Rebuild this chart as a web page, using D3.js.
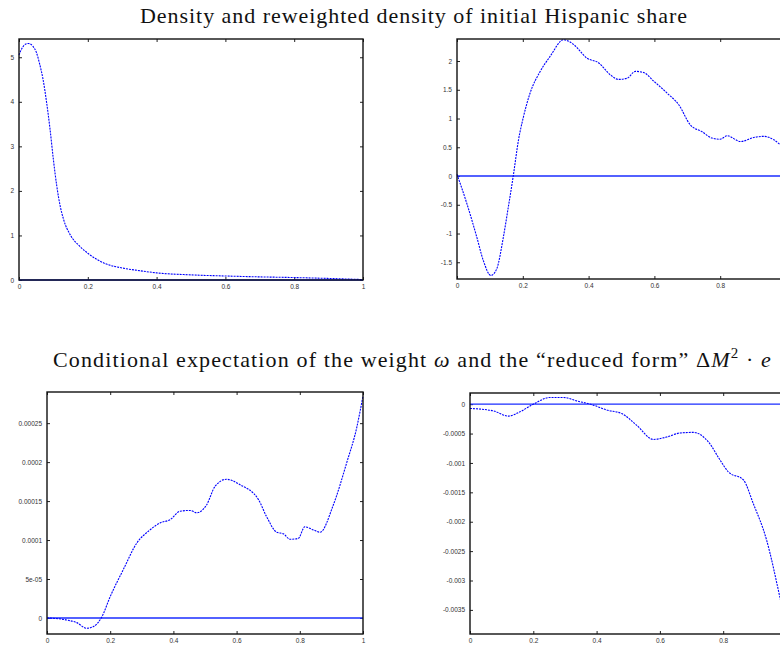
<!DOCTYPE html>
<html>
<head>
<meta charset="utf-8">
<script src="https://cdnjs.cloudflare.com/ajax/libs/d3/7.8.5/d3.min.js"></script>
<style>
body { margin: 0; background: #fff; }
.title { font-family: "Liberation Serif", "Times New Roman", serif; font-size: 22px; fill: #111; }
</style>
</head>
<body>
<svg id="chart" width="780" height="646"></svg>
<script>
// shared x ticks
var xTicks = [0, 0.2, 0.4, 0.6, 0.8, 1];
var xLabels = ["0", "0.2", "0.4", "0.6", "0.8", "1"];

// top left: density of initial hispanic share
var densX = [0, 0.01, 0.02, 0.027, 0.04, 0.05, 0.06, 0.07, 0.08, 0.09, 0.1, 0.11, 0.12, 0.13, 0.15, 0.175, 0.2, 0.25, 0.3, 0.35, 0.4, 0.5, 0.6, 0.7, 0.8, 0.9, 1.0];
var densY = [5.05, 5.22, 5.30, 5.31, 5.25, 5.12, 4.85, 4.5, 4.0, 3.4, 2.7, 2.1, 1.65, 1.35, 1.0, 0.77, 0.6, 0.37, 0.27, 0.21, 0.16, 0.115, 0.09, 0.07, 0.055, 0.035, 0.01];
var densTicks = [0, 1, 2, 3, 4, 5];
var densLabels = ["0", "1", "2", "3", "4", "5"];

// top right: reweighted density
var rewX = [0, 0.03, 0.06, 0.08, 0.103, 0.121, 0.141, 0.156, 0.171, 0.187, 0.202, 0.222, 0.253, 0.283, 0.324, 0.354, 0.395, 0.43, 0.466, 0.491, 0.517, 0.542, 0.567, 0.598, 0.639, 0.674, 0.709, 0.745, 0.775, 0.8, 0.821, 0.862, 0.902, 0.933, 0.963, 0.983, 1.0];
var rewY = [0.03, -0.48, -1.06, -1.47, -1.73, -1.61, -1.06, -0.54, 0, 0.63, 1.03, 1.44, 1.82, 2.08, 2.37, 2.29, 2.05, 1.97, 1.76, 1.68, 1.70, 1.82, 1.80, 1.65, 1.44, 1.24, 0.89, 0.77, 0.66, 0.64, 0.70, 0.60, 0.67, 0.69, 0.63, 0.54, 0.45];
var rewTicks = [-1.5, -1, -0.5, 0, 0.5, 1, 1.5, 2];
var rewLabels = ["-1.5", "-1", "-0.5", "0", "0.5", "1", "1.5", "2"];

// bottom left: conditional expectation of the weight
var wX = [0, 0.062, 0.094, 0.126, 0.147, 0.173, 0.2, 0.241, 0.284, 0.326, 0.358, 0.389, 0.421, 0.453, 0.474, 0.505, 0.532, 0.568, 0.611, 0.669, 0.695, 0.727, 0.748, 0.769, 0.795, 0.816, 0.843, 0.864, 0.906, 0.949, 0.98, 1.0];
var wY = [0, -2.6e-6, -6e-6, -1.33e-5, -1.11e-5, 1e-6, 2.74e-5, 6.17e-5, 9.6e-5, 1.13e-4, 1.22e-4, 1.26e-4, 1.37e-4, 1.38e-4, 1.35e-4, 1.45e-4, 1.69e-4, 1.78e-4, 1.71e-4, 1.52e-4, 1.30e-4, 1.10e-4, 1.08e-4, 1.01e-4, 1.02e-4, 1.17e-4, 1.13e-4, 1.10e-4, 1.45e-4, 2.00e-4, 2.44e-4, 2.85e-4];
var wTicks = [0, 0.00005, 0.0001, 0.00015, 0.0002, 0.00025];
var wLabels = ["0", "5e-05", "0.0001", "0.00015", "0.0002", "0.00025"];

// bottom right: reduced form
var rfX = [0, 0.074, 0.121, 0.158, 0.2, 0.253, 0.295, 0.337, 0.39, 0.432, 0.479, 0.527, 0.579, 0.621, 0.664, 0.706, 0.753, 0.79, 0.816, 0.864, 0.895, 0.937, 0.979, 1.0];
var rfY = [-7.3e-5, -1.14e-4, -2.04e-4, -1.3e-4, 0, 1.14e-4, 1.14e-4, 5.6e-5, -1.7e-5, -1.0e-4, -1.6e-4, -3.6e-4, -6.0e-4, -5.6e-4, -4.9e-4, -4.8e-4, -6.4e-4, -9.5e-4, -1.15e-3, -1.29e-3, -1.69e-3, -2.31e-3, -3.28e-3, -3.8e-3];
var rfTicks = [-0.0035, -0.003, -0.0025, -0.002, -0.0015, -0.001, -0.0005, 0];
var rfLabels = ["-0.0035", "-0.003", "-0.0025", "-0.002", "-0.0015", "-0.001", "-0.0005", "0"];

var W = 780;
var svg = d3.select("#chart");

function panel(box, xs, ys, yDomain, yTicks, yLabels) {
  var x = d3.scaleLinear().domain([0, 1]).range([box.left, box.right]),
  y = d3.scaleLinear().domain(yDomain).range([box.bottom, box.top]);

  var g = svg.append("g");

  // the right half of the page is cropped, so labels past the edge are not drawn
  var shown = xTicks.filter(function(d) { return x(d) < W - 4; });

  var xAxis = d3.axisBottom(x)
    .tickValues(shown)
    .tickFormat(function(d) { return xLabels[xTicks.indexOf(d)]; })
    .tickSize(-3)
    .tickSizeOuter(0)
    .tickPadding(4);
  var yAxis = d3.axisLeft(y)
    .tickValues(yTicks)
    .tickFormat(function(d, i) { return yLabels[i]; })
    .tickSize(-3)
    .tickSizeOuter(0)
    .tickPadding(5);

  g.append("g")
    .attr("transform", "translate(0," + box.bottom + ")")
    .call(xAxis);
  g.append("g")
    .attr("transform", "translate(" + box.left + ",0)")
    .call(yAxis);
  // mirrored ticks, no labels
  g.append("g")
    .attr("transform", "translate(0," + box.top + ")")
    .call(d3.axisTop(x).tickValues(xTicks).tickFormat("").tickSize(-3).tickSizeOuter(0));
  g.append("g")
    .attr("transform", "translate(" + box.right + ",0)")
    .call(d3.axisRight(y).tickValues(yTicks).tickFormat("").tickSize(-3).tickSizeOuter(0));

  g.selectAll(".domain").remove();
  g.selectAll(".tick line").attr("stroke", "#222").attr("stroke-width", 1);
  g.selectAll(".tick text")
    .attr("font-family", "'Liberation Sans', Arial, sans-serif")
    .attr("font-size", "6.5px")
    .attr("fill", "#333");

  // zero line
  g.append("line")
    .attr("x1", x(0)).attr("x2", x(1))
    .attr("y1", y(0)).attr("y2", y(0))
    .attr("stroke", "#1a2cff")
    .attr("stroke-width", 1.4);

  var line = d3.line()
    .x(function(d) { return x(d[0]); })
    .y(function(d) { return y(d[1]); })
    .curve(d3.curveMonotoneX);

  g.append("path")
    .datum(d3.zip(xs, ys))
    .attr("fill", "none")
    .attr("stroke", "#0000ff")
    .attr("stroke-width", 1.1)
    .attr("stroke-dasharray", "2,1")
    .attr("d", line);

  g.append("rect")
    .attr("x", box.left).attr("y", box.top)
    .attr("width", box.right - box.left)
    .attr("height", box.bottom - box.top)
    .attr("fill", "none")
    .attr("stroke", "#111")
    .attr("stroke-width", 1.4);
}

panel({left: 19, right: 363, top: 39, bottom: 280}, densX, densY, [0, 5.41], densTicks, densLabels);
panel({left: 457, right: 786, top: 39, bottom: 279}, rewX, rewY, [-1.791, 2.383], rewTicks, rewLabels);
panel({left: 47, right: 363, top: 392, bottom: 634}, wX, wY, [-0.0000206, 0.00029], wTicks, wLabels);
panel({left: 470, right: 786.5, top: 393, bottom: 634}, rfX, rfY, [-0.00391, 0.00019], rfTicks, rfLabels);

// titles, spread to the width they take in the reference
function fit(t, target) {
  var w = t.node().getComputedTextLength();
  var n = t.text().length;
  t.attr("letter-spacing", ((target - w) / n) + "px");
}

var t1 = svg.append("text")
  .attr("class", "title")
  .attr("x", 140)
  .attr("y", 23)
  .text("Density and reweighted density of initial Hispanic share");
fit(t1, 548);

var t2 = svg.append("text")
  .attr("class", "title")
  .attr("x", 53)
  .attr("y", 367);
t2.append("tspan").text("Conditional expectation of the weight ");
t2.append("tspan").attr("font-style", "italic").text("ω");
t2.append("tspan").text(" and the \u201Creduced form\u201D \u0394");
t2.append("tspan").attr("font-style", "italic").text("M");
t2.append("tspan").attr("font-size", "15px").attr("dy", -9).text("2");
t2.append("tspan").attr("dy", 9).text(" \u00B7 ");
t2.append("tspan").attr("font-style", "italic").text("e");
fit(t2, 719);
</script>
</body>
</html>
